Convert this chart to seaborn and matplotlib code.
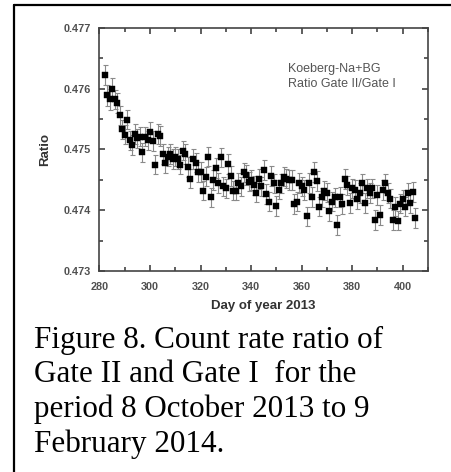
import numpy as np
import pandas as pd
import matplotlib
matplotlib.use("Agg")
import matplotlib.pyplot as plt
from matplotlib.ticker import MultipleLocator
import seaborn as sns

days = list(range(282, 406))
ratio = [
    0.47622, 0.47589, 0.47582, 0.47600, 0.47582, 0.47576, 0.47556, 0.47533, 0.47524, 0.47549,
    0.47515, 0.47507, 0.47525, 0.47518, 0.47521, 0.47495, 0.47521, 0.47515, 0.47529, 0.47514,
    0.47475, 0.47525, 0.47522, 0.47492, 0.47477, 0.47488, 0.47492, 0.47484, 0.47488, 0.47484,
    0.47475, 0.47498, 0.47492, 0.47471, 0.47452, 0.47484, 0.47478, 0.47463, 0.47463, 0.47432,
    0.47455, 0.47488, 0.47421, 0.47450, 0.47469, 0.47445, 0.47487, 0.47439, 0.47436, 0.47476,
    0.47456, 0.47432, 0.47432, 0.47445, 0.47439, 0.47462, 0.47458, 0.47447, 0.47450, 0.47441,
    0.47429, 0.47451, 0.47439, 0.47466, 0.47427, 0.47414, 0.47456, 0.47444, 0.47407, 0.47434,
    0.47444, 0.47455, 0.47452, 0.47450, 0.47450, 0.47410, 0.47414, 0.47445, 0.47439, 0.47433,
    0.47390, 0.47445, 0.47422, 0.47463, 0.47448, 0.47406, 0.47421, 0.47432, 0.47429, 0.47399,
    0.47414, 0.47421, 0.47376, 0.47422, 0.47410, 0.47451, 0.47441, 0.47412, 0.47436, 0.47434,
    0.47418, 0.47428, 0.47444, 0.47412, 0.47436, 0.47428, 0.47436, 0.47384, 0.47425, 0.47392,
    0.47433, 0.47444, 0.47428, 0.47419, 0.47384, 0.47406, 0.47383, 0.47411, 0.47418, 0.47406,
    0.47428, 0.47412, 0.47430, 0.47387,
]
err = [
    0.00017, 0.00017, 0.00017, 0.00017, 0.00016, 0.00016, 0.00016, 0.00016, 0.00016, 0.00016,
    0.00016, 0.00016, 0.00016, 0.00016, 0.00016, 0.00016, 0.00016, 0.00016, 0.00016, 0.00016,
    0.00016, 0.00016, 0.00016, 0.00016, 0.00016, 0.00016, 0.00016, 0.00016, 0.00016, 0.00016,
    0.00016, 0.00016, 0.00016, 0.00016, 0.00016, 0.00016, 0.00016, 0.00016, 0.00016, 0.00016,
    0.00016, 0.00016, 0.00016, 0.00016, 0.00016, 0.00016, 0.00016, 0.00016, 0.00016, 0.00016,
    0.00016, 0.00016, 0.00016, 0.00016, 0.00016, 0.00016, 0.00016, 0.00016, 0.00016, 0.00016,
    0.00016, 0.00016, 0.00016, 0.00016, 0.00016, 0.00016, 0.00016, 0.00016, 0.00016, 0.00016,
    0.00016, 0.00016, 0.00016, 0.00016, 0.00016, 0.00016, 0.00016, 0.00016, 0.00016, 0.00016,
    0.00016, 0.00016, 0.00016, 0.00016, 0.00016, 0.00016, 0.00016, 0.00016, 0.00016, 0.00016,
    0.00016, 0.00016, 0.00016, 0.00016, 0.00016, 0.00016, 0.00016, 0.00016, 0.00016, 0.00016,
    0.00016, 0.00016, 0.00016, 0.00016, 0.00016, 0.00016, 0.00016, 0.00016, 0.00016, 0.00016,
    0.00016, 0.00016, 0.00016, 0.00016, 0.00016, 0.00016, 0.00016, 0.00016, 0.00016, 0.00016,
    0.00016, 0.00016, 0.00016, 0.00016,
]
x_ticks = [280, 300, 320, 340, 360, 380, 400]
y_ticks = [0.473, 0.474, 0.475, 0.476, 0.477]

df = pd.DataFrame({"day": days, "ratio": ratio, "err": err})

sns.set_style("white")
plt.rcParams["font.family"] = ["Liberation Sans", "DejaVu Sans"]

fig = plt.figure(figsize=(4.51, 4.72), dpi=100)
ax = fig.add_axes([0.2206, 0.4258, 0.949 - 0.2206, 0.9413 - 0.4258])

ax.errorbar(df["day"], df["ratio"], yerr=df["err"], fmt="none",
            ecolor="#8a8a8a", elinewidth=0.8, capsize=1.8, capthick=0.8, zorder=2)
sns.scatterplot(data=df, x="day", y="ratio", marker="s", s=16, color="black",
                edgecolor="black", linewidth=0.3, ax=ax, zorder=3, legend=False)

ax.set_xlim(280, 410)
ax.set_ylim(0.473, 0.477)
ax.set_xticks(x_ticks)
ax.set_xticklabels([str(t) for t in x_ticks])
ax.set_yticks(y_ticks)
ax.set_yticklabels([f"{t:.3f}" for t in y_ticks])
ax.xaxis.set_minor_locator(MultipleLocator(10))
ax.yaxis.set_minor_locator(MultipleLocator(0.0005))
ax.tick_params(which="both", direction="in", top=True, right=True, bottom=True, left=True,
               color="#333333", width=1.1)
ax.tick_params(which="major", length=4.5)
ax.tick_params(axis="x", which="major", pad=8)
ax.tick_params(axis="y", which="major", pad=6)
ax.tick_params(which="minor", length=3)
for lab in ax.get_xticklabels() + ax.get_yticklabels():
    lab.set_fontweight("bold")
    lab.set_fontsize(7.8)
    lab.set_color("#505050")
for sp in ax.spines.values():
    sp.set_color("#444444")
    sp.set_linewidth(1.2)

ax.set_xlabel("Day of year 2013", fontsize=9.5, fontweight="bold", color="#333333", labelpad=6)
ax.set_ylabel("Ratio", fontsize=9.5, fontweight="bold", color="#333333", labelpad=9)

ax.text(0.575, 0.80, "Koeberg-Na+BG\nRatio Gate II/Gate I", transform=ax.transAxes,
        fontsize=9, color="#555555", va="center", ha="left", linespacing=1.3)

fig.text(34 / 451, 1 - 326 / 472,
         "Figure 8. Count rate ratio of\nGate II and Gate I  for the\nperiod 8 October 2013 to 9\nFebruary 2014.",
         family=["Liberation Serif", "DejaVu Serif"], fontsize=22.4, color="black",
         ha="left", va="top", linespacing=1.24)

fig.add_artist(plt.Line2D([14 / 451, 14 / 451], [0, 1 - 5 / 472], transform=fig.transFigure,
                          color="black", linewidth=1.6))
fig.add_artist(plt.Line2D([14 / 451, 1], [1 - 5 / 472, 1 - 5 / 472], transform=fig.transFigure,
                          color="black", linewidth=1.6))

fig.savefig("out.png", dpi=100)
